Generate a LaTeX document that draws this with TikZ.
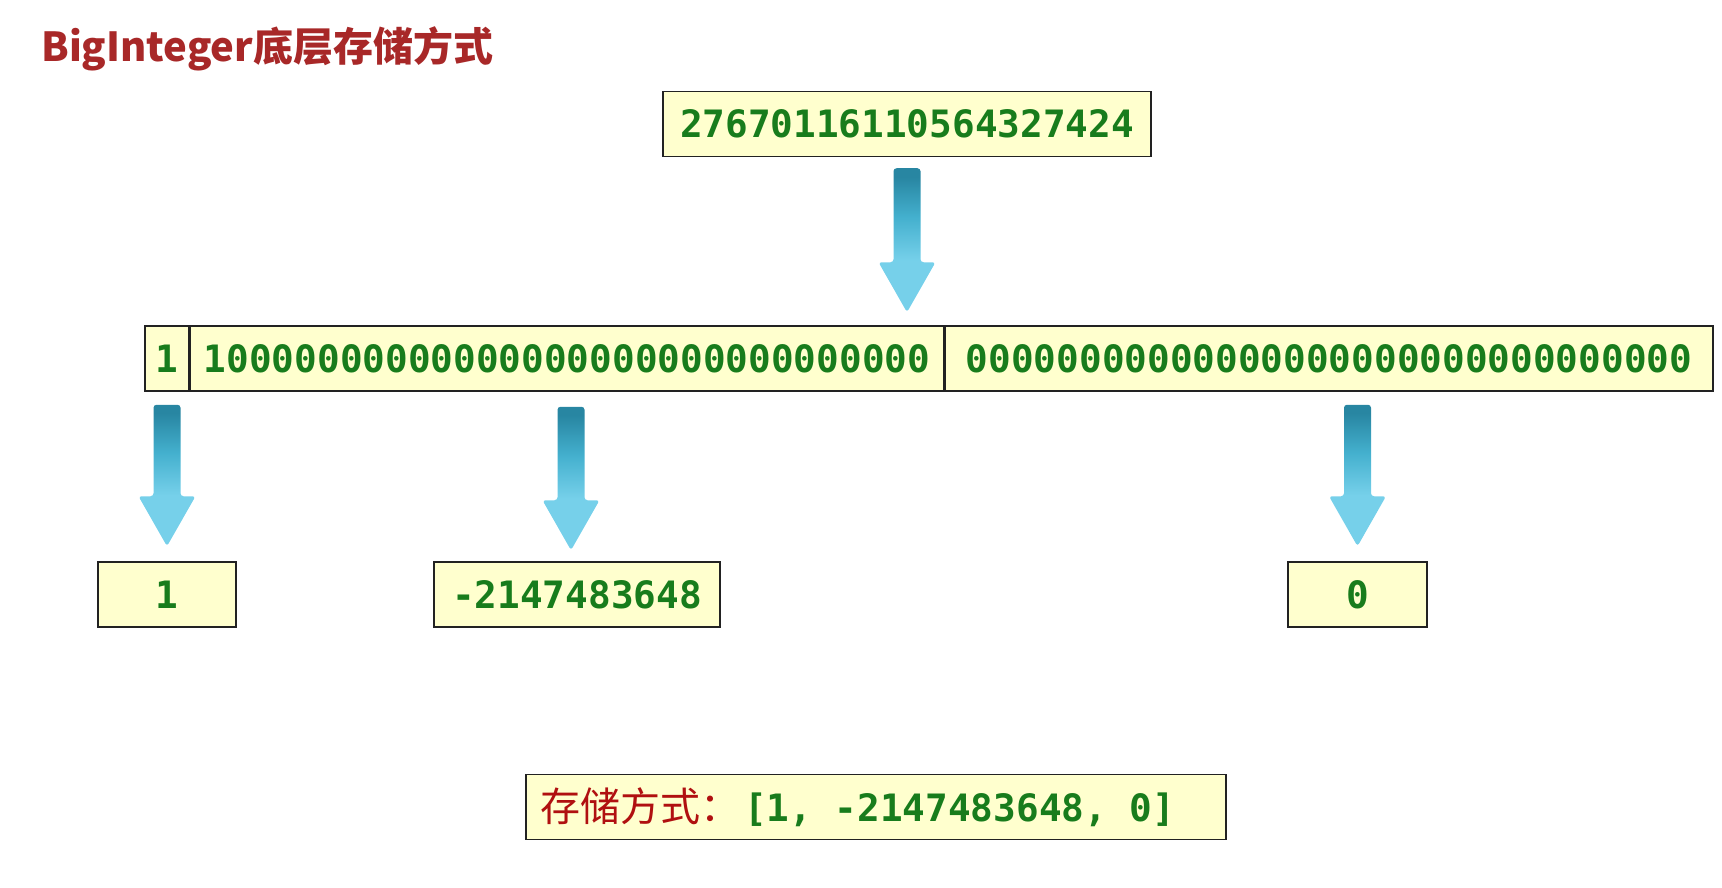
\documentclass[tikz,border=0pt]{standalone}
\usepackage{fontspec}
\setmonofont{DejaVu Sans Mono}
\newfontfamily\cjk{Noto Sans CJK SC}
\usetikzlibrary{calc}
\definecolor{cellfill}{RGB}{255,255,206}
\definecolor{cellline}{RGB}{34,34,34}
\definecolor{numgreen}{RGB}{24,124,28}
\definecolor{titlered}{RGB}{168,40,40}
\definecolor{labelred}{RGB}{176,16,16}
\definecolor{arrowtop}{RGB}{40,134,162}
\definecolor{arrowmid}{RGB}{68,176,206}
\definecolor{arrowbot}{RGB}{118,208,234}
\pgfdeclareverticalshading{bluearrowshade}{100bp}{color(0bp)=(arrowbot); color(43bp)=(arrowbot);
  color(58bp)=(arrowmid); color(72bp)=(arrowtop); color(100bp)=(arrowtop)}
\newcommand{\digits}{\ttfamily\bfseries\fontsize{37.7}{40}\selectfont}
\newcommand{\monosp}{\hspace{0.602em}}
\tikzset{
  cell/.style={draw=cellline, line width=1.5pt, fill=cellfill, minimum height=65pt,
    inner sep=0pt, text=numgreen, font=\digits},
  arrowfill/.style={shading=bluearrowshade, rounded corners=3pt},
}
% fat shaded arrow from #1 (top) down to tip #2
\newcommand{\bluearrow}[2]{%
  \shade[arrowfill] let \p1=(#1), \p2=(#2) in
    (\x1-13.5pt,\y1) -- (\x1+13.5pt,\y1) -- (\x1+13.5pt,\y2+50pt) -- (\x1+28.5pt,\y2+50pt)
    -- (\x1,\y2) -- (\x1-28.5pt,\y2+50pt) -- (\x1-13.5pt,\y2+50pt) -- cycle;}

\begin{document}
\begin{tikzpicture}[x=1pt,y=-1pt]
\useasboundingbox (0,0) rectangle (1722,888);
% title
\node[anchor=base west, inner sep=0pt, text=titlered, font=\cjk\bfseries\fontsize{40}{44}\selectfont]
  (title) at (41,62) {BigInteger底层存储方式};
% the big number
\node[cell, minimum width=488pt] (num) at (907,124) {27670116110564327424};
% its bits: sign | high word | low word
\node[cell, minimum width=44pt] (bitA) at (167,358.5) {1};
\node[cell, minimum width=753pt, anchor=west] (bitB) at (bitA.east) {10000000000000000000000000000000};
\node[cell, minimum width=768pt, anchor=west] (bitC) at (bitB.east) {00000000000000000000000000000000};
% the ints
\node[cell, minimum width=138pt] (r1) at (167,594.5) {1};
\node[cell, minimum width=286pt] (r2) at (577,594.5) {-2147483648};
\node[cell, minimum width=139pt] (r3) at (1357.5,594.5) {0};
% result
\node[cell, text width=672pt, inner xsep=14pt, align=left] (store) at (876,807)
  {\mbox{{\cjk\mdseries\fontsize{40}{44}\selectfont\color{labelred}存储方式：}\hspace{4pt}[1,\monosp-2147483648,\monosp0]}};
% arrows
\bluearrow{$(num.south)+(0,11)$}{$(num.south |- bitB.north)+(0,-13)$}
\bluearrow{$(r1.north |- bitA.south)+(0,13)$}{$(r1.north)+(0,-15)$}
\bluearrow{$(r2.north |- bitA.south)+(-6,15)$}{$(r2.north)+(-6,-11)$}
\bluearrow{$(r3.north |- bitA.south)+(0,13)$}{$(r3.north)+(0,-15)$}
\end{tikzpicture}
\end{document}
